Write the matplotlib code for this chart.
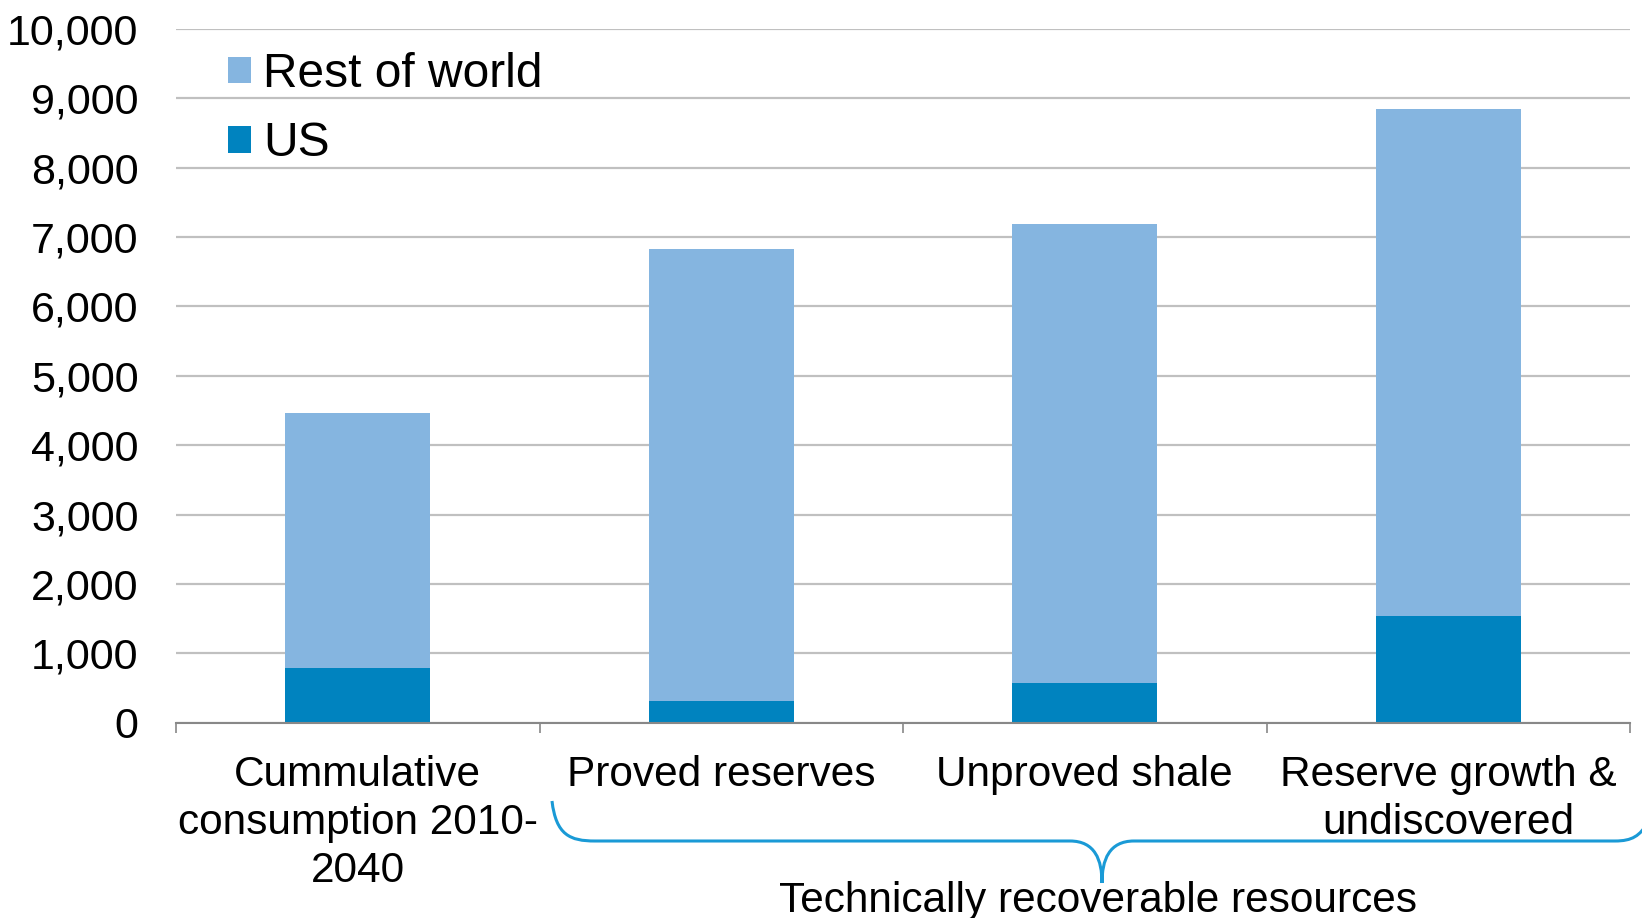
import numpy as np
import matplotlib.pyplot as plt
from matplotlib.path import Path
from matplotlib.patches import PathPatch
from matplotlib.ticker import FuncFormatter

plt.rcParams['font.family'] = ['Liberation Sans', 'DejaVu Sans']

categories = ['Cummulative\nconsumption 2010-\n2040', 'Proved reserves',
              'Unproved shale', 'Reserve growth &\nundiscovered']
us = [790, 310, 570, 1540]
rest_of_world = [3680, 6520, 6620, 7300]   # stacked on top of US
yticks = np.arange(0, 10001, 1000)

light_blue = '#85b5e0'
dark_blue = '#0083bf'
brace_blue = '#1a9ad6'

W, H = 1642, 918
fig = plt.figure(figsize=(W / 100, H / 100), dpi=100)
ax = fig.add_axes([176 / W, 1 - 722.6 / H, (1630 - 176) / W, (722.6 - 29) / H])

x = np.arange(len(categories))
ax.bar(x, us, width=0.4, color=dark_blue, label='US', zorder=3)
ax.bar(x, rest_of_world, width=0.4, bottom=us, color=light_blue,
       label='Rest of world', zorder=3)

ax.set_xlim(-0.5, len(categories) - 0.5)
ax.set_ylim(0, 10000)
ax.set_yticks(yticks)
ax.yaxis.set_major_formatter(FuncFormatter(lambda v, p: '{:,.0f}'.format(v)))
ax.tick_params(axis='y', length=0, pad=27, labelsize=31)

ax.set_xticks(x)
ax.set_xticklabels(categories, fontsize=30.5, linespacing=1.27)
ax.tick_params(axis='x', which='major', length=0, pad=23)
ax.set_xticks(np.arange(-0.5, len(categories)), minor=True)
ax.tick_params(axis='x', which='minor', length=7, width=1.2, color='#888888')

ax.yaxis.grid(True, color='#c0c0c0', linewidth=1.6, zorder=0)
for s in ['top', 'right', 'left']:
    ax.spines[s].set_visible(False)
ax.spines['bottom'].set_color('#888888')
ax.spines['bottom'].set_linewidth(1.5)
ax.spines['bottom'].set_zorder(4)

handles, labels = ax.get_legend_handles_labels()
ax.legend(handles[::-1], labels[::-1], loc='upper left',
          bbox_to_anchor=(228 / W, 1 - 52 / H), bbox_transform=fig.transFigure,
          frameon=False, fontsize=34.5, handlelength=0.48, handleheight=0.48,
          handletextpad=0.26, labelspacing=0.51, borderaxespad=0, borderpad=0)

# curly brace under the three resource categories (figure pixel coords)
def px(xp, yp):
    return (xp / W, 1 - yp / H)

verts = [px(552, 801),
         px(556, 835), px(570, 841), px(595, 841),
         px(1070, 841),
         px(1095, 841), px(1102, 860), px(1102, 883),
         px(1102, 860), px(1109, 841), px(1134, 841),
         px(1615, 841),
         px(1632, 841), px(1640, 836), px(1648, 822)]
codes = [Path.MOVETO,
         Path.CURVE4, Path.CURVE4, Path.CURVE4,
         Path.LINETO,
         Path.CURVE4, Path.CURVE4, Path.CURVE4,
         Path.CURVE4, Path.CURVE4, Path.CURVE4,
         Path.LINETO,
         Path.CURVE4, Path.CURVE4, Path.CURVE4]
brace = PathPatch(Path(verts, codes), transform=fig.transFigure,
                  facecolor='none', edgecolor=brace_blue, linewidth=2.2)
fig.patches.append(brace)

fig.text(1098 / W, 1 - 901 / H, 'Technically recoverable resources',
         ha='center', va='center', fontsize=30.5)

fig.savefig('out.png', dpi=100)
